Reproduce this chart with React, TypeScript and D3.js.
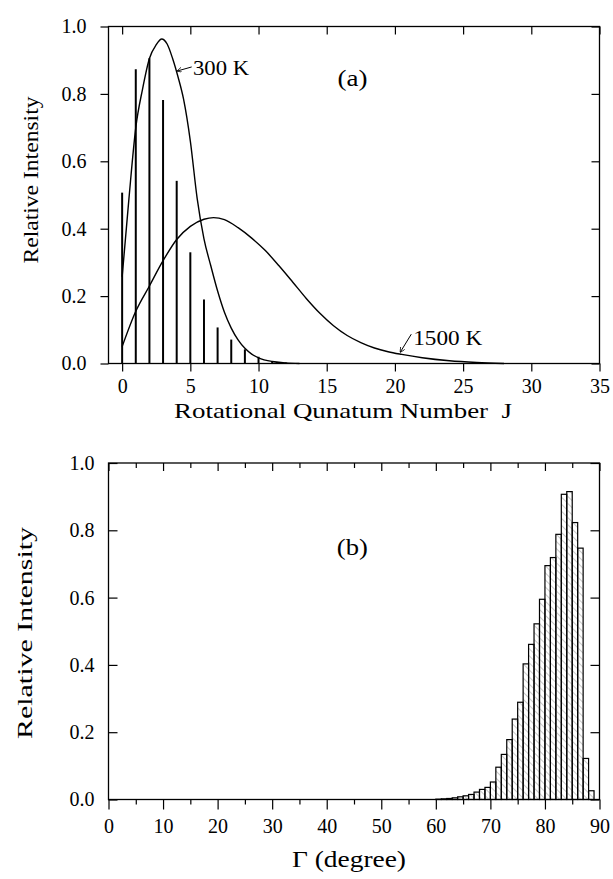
import React, { useRef, useEffect } from 'react';
import * as d3 from 'd3';

// ---- panel (a): rotational populations ----
const jLevels = [0, 1, 2, 3, 4, 5, 6, 7, 8, 9, 10, 11, 12];
const lineIntensity = [0.507, 0.873, 0.906, 0.782, 0.542, 0.33, 0.19, 0.107, 0.071, 0.042, 0.02, 0.007, 0.003];

const j300 = [0, 0.5, 1, 1.5, 2, 2.5, 2.9, 3.3, 3.7, 4.1, 4.5, 5, 5.5, 6, 6.5, 7, 7.5, 8, 8.5, 9, 9.5, 10, 11, 12, 13];
const i300 = [0.257, 0.49, 0.7, 0.815, 0.905, 0.946, 0.963, 0.948, 0.905, 0.85, 0.785, 0.66, 0.49, 0.37, 0.29, 0.215, 0.152, 0.105, 0.07, 0.045, 0.028, 0.017, 0.006, 0.002, 0];

const j1500 = [0, 1, 2, 3, 4, 5, 6, 6.7, 7.5, 8.5, 9.5, 10.5, 11.5, 12.5, 13.5, 14.5, 15.5, 16.5, 17.5, 18.5, 19.5, 20.5, 22, 24, 26, 28];
const i1500 = [0.05, 0.155, 0.23, 0.305, 0.368, 0.407, 0.428, 0.433, 0.427, 0.403, 0.372, 0.335, 0.29, 0.242, 0.193, 0.149, 0.112, 0.083, 0.062, 0.046, 0.035, 0.027, 0.017, 0.008, 0.003, 0];

const jTicks = [0, 5, 10, 15, 20, 25, 30, 35];
const intensityTicks = [0, 0.2, 0.4, 0.6, 0.8, 1.0];

// ---- panel (b): Gamma histogram (1 degree bins) ----
const gammaBins = [60, 61, 62, 63, 64, 65, 66, 67, 68, 69, 70, 71, 72, 73, 74, 75, 76, 77, 78, 79, 80, 81, 82, 83, 84, 85, 86, 87, 88];
const gammaCounts = [0.001, 0.002, 0.003, 0.005, 0.008, 0.011, 0.015, 0.022, 0.03, 0.036, 0.052, 0.096, 0.134, 0.178, 0.239, 0.289, 0.403, 0.461, 0.522, 0.595, 0.695, 0.719, 0.788, 0.907, 0.915, 0.823, 0.747, 0.122, 0.026];

const gammaTicks = [0, 10, 20, 30, 40, 50, 60, 70, 80, 90];
const gammaMinor = [5, 15, 25, 35, 45, 55, 65, 75, 85];

const App = () => {
  const svgRef = useRef(null);

  useEffect(() => {
    const svg = d3.select(svgRef.current);
    svg.selectAll('*').remove();
    const font = "'Liberation Serif', 'Times New Roman', 'Nimbus Roman', 'FreeSerif', serif";

    const left = 108.5;
    const right = 599.5;
    const xJ = d3.scaleLinear().domain([-1, 35]).range([left, right]);
    const yA = d3.scaleLinear().domain([0, 1]).range([363.5, 26.5]);
    const xG = d3.scaleLinear().domain([0, 90]).range([left, right]);
    const yB = d3.scaleLinear().domain([0, 1]).range([799.5, 463]);

    const defs = svg.append('defs');
    defs.append('pattern')
      .attr('id', 'hatch')
      .attr('patternUnits', 'userSpaceOnUse')
      .attr('width', 5)
      .attr('height', 10)
      .attr('patternTransform', 'rotate(-45)')
      .append('line')
      .attr('x1', 0).attr('y1', 0).attr('x2', 0).attr('y2', 10)
      .attr('stroke', '#777')
      .attr('stroke-width', 0.8);

    defs.append('marker')
      .attr('id', 'arrow')
      .attr('viewBox', '0 0 10 10')
      .attr('refX', 9).attr('refY', 5)
      .attr('markerWidth', 5).attr('markerHeight', 5)
      .attr('markerUnits', 'userSpaceOnUse')
      .attr('orient', 'auto')
      .append('path')
      .attr('d', 'M0,0 L10,5 L0,10')
      .attr('fill', 'none')
      .attr('stroke', '#000')
      .attr('stroke-width', 1.5);

    const styleAxis = (g) => {
      g.select('.domain').remove();
      g.attr('font-family', null).attr('font-size', null);
      g.style('font-family', font).style('font-size', '20px');
      g.selectAll('line').attr('stroke', '#000').attr('stroke-width', 1.2);
      g.selectAll('text').attr('fill', '#000');
    };
    const noLabel = () => '';

    const label = (sel, size) => sel.style('font-family', font).style('font-size', `${size}px`).attr('fill', '#000');

    // ================= panel (a) =================
    svg.append('g').attr('transform', `translate(0,${yA(0)})`)
      .call(d3.axisBottom(xJ).tickValues(jTicks).tickSize(8).tickPadding(7))
      .call(styleAxis);
    svg.append('g').attr('transform', `translate(0,${yA(1)})`)
      .call(d3.axisTop(xJ).tickValues(jTicks).tickSize(-8).tickFormat(noLabel))
      .call(styleAxis);
    svg.append('g').attr('transform', `translate(${left},0)`)
      .call(d3.axisLeft(yA).tickValues(intensityTicks).tickSize(8).tickPadding(14).tickFormat(d3.format('.1f')))
      .call(styleAxis);
    svg.append('g').attr('transform', `translate(${right},0)`)
      .call(d3.axisRight(yA).tickValues(intensityTicks).tickSize(-8).tickFormat(noLabel))
      .call(styleAxis);

    svg.append('rect')
      .attr('x', left).attr('y', yA(1))
      .attr('width', right - left).attr('height', yA(0) - yA(1))
      .attr('fill', 'none').attr('stroke', '#000').attr('stroke-width', 1.3);

    svg.append('g')
      .selectAll('line')
      .data(jLevels)
      .enter().append('line')
      .attr('x1', d => xJ(d)).attr('x2', d => xJ(d))
      .attr('y1', yA(0))
      .attr('y2', (d, i) => yA(lineIntensity[i]))
      .attr('stroke', '#000')
      .attr('stroke-width', 2);

    const lineA = d3.line()
      .x(d => xJ(d[0]))
      .y(d => yA(d[1]))
      .curve(d3.curveMonotoneX);

    [[j300, i300], [j1500, i1500]].forEach(([js, vs]) => {
      svg.append('path')
        .datum(js.map((j, i) => [j, vs[i]]))
        .attr('d', lineA)
        .attr('fill', 'none')
        .attr('stroke', '#000')
        .attr('stroke-width', 1.4);
    });

    // annotations
    svg.append('line')
      .attr('x1', xJ(5.1)).attr('y1', yA(0.88))
      .attr('x2', xJ(4.05)).attr('y2', yA(0.868))
      .attr('stroke', '#000').attr('stroke-width', 1)
      .attr('marker-end', 'url(#arrow)');
    svg.append('text')
      .attr('x', xJ(5.2)).attr('y', yA(0.856))
      .call(label, 21)
      .attr('textLength', 56).attr('lengthAdjust', 'spacingAndGlyphs')
      .text('300 K');

    svg.append('line')
      .attr('x1', xJ(21.2)).attr('y1', yA(0.087))
      .attr('x2', xJ(20.4)).attr('y2', yA(0.034))
      .attr('stroke', '#000').attr('stroke-width', 1)
      .attr('marker-end', 'url(#arrow)');
    svg.append('text')
      .attr('x', xJ(21.34)).attr('y', yA(0.054))
      .call(label, 21)
      .attr('textLength', 69).attr('lengthAdjust', 'spacingAndGlyphs')
      .text('1500 K');

    svg.append('text')
      .attr('x', xJ(16.9)).attr('y', yA(0.824))
      .attr('text-anchor', 'middle')
      .call(label, 24)
      .attr('textLength', 30).attr('lengthAdjust', 'spacingAndGlyphs')
      .text('(a)');

    svg.append('text')
      .attr('x', 343).attr('y', 418)
      .attr('text-anchor', 'middle')
      .call(label, 22)
      .style('white-space', 'pre')
      .attr('textLength', 338).attr('lengthAdjust', 'spacingAndGlyphs')
      .text('Rotational Qunatum Number  J');

    svg.append('text')
      .attr('transform', 'translate(38,180) rotate(-90)')
      .attr('text-anchor', 'middle')
      .call(label, 21)
      .attr('textLength', 167).attr('lengthAdjust', 'spacingAndGlyphs')
      .text('Relative Intensity');

    // ================= panel (b) =================
    svg.append('g').attr('transform', `translate(0,${yB(0)})`)
      .call(d3.axisBottom(xG).tickValues(gammaTicks).tickSize(10).tickPadding(9))
      .call(styleAxis);
    svg.append('g').attr('transform', `translate(0,${yB(0)})`)
      .call(d3.axisBottom(xG).tickValues(gammaMinor).tickSize(5).tickFormat(noLabel))
      .call(styleAxis);
    svg.append('g').attr('transform', `translate(0,${yB(1)})`)
      .call(d3.axisTop(xG).tickValues(gammaTicks).tickSize(-8).tickFormat(noLabel))
      .call(styleAxis);
    svg.append('g').attr('transform', `translate(0,${yB(1)})`)
      .call(d3.axisTop(xG).tickValues(gammaMinor).tickSize(-5).tickFormat(noLabel))
      .call(styleAxis);
    svg.append('g').attr('transform', `translate(${left},0)`)
      .call(d3.axisLeft(yB).tickValues(intensityTicks).tickSize(-9).tickPadding(14).tickFormat(d3.format('.1f')))
      .call(styleAxis);
    svg.append('g').attr('transform', `translate(${right},0)`)
      .call(d3.axisRight(yB).tickValues(intensityTicks).tickSize(-9).tickFormat(noLabel))
      .call(styleAxis);

    svg.append('g')
      .selectAll('rect')
      .data(gammaBins)
      .enter().append('rect')
      .attr('x', d => xG(d))
      .attr('width', d => xG(d + 1) - xG(d))
      .attr('y', (d, i) => yB(gammaCounts[i]))
      .attr('height', (d, i) => yB(0) - yB(gammaCounts[i]))
      .attr('fill', 'url(#hatch)')
      .attr('stroke', '#000')
      .attr('stroke-width', 1.2);

    svg.append('rect')
      .attr('x', left).attr('y', yB(1))
      .attr('width', right - left).attr('height', yB(0) - yB(1))
      .attr('fill', 'none').attr('stroke', '#000').attr('stroke-width', 1.3);

    svg.append('text')
      .attr('x', xG(44.7)).attr('y', yB(0.726))
      .attr('text-anchor', 'middle')
      .call(label, 24)
      .attr('textLength', 31).attr('lengthAdjust', 'spacingAndGlyphs')
      .text('(b)');

    svg.append('text')
      .attr('x', 349).attr('y', 867)
      .attr('text-anchor', 'middle')
      .call(label, 24)
      .attr('textLength', 114).attr('lengthAdjust', 'spacingAndGlyphs')
      .text('Γ (degree)');

    svg.append('text')
      .attr('transform', 'translate(32,633) rotate(-90)')
      .attr('text-anchor', 'middle')
      .call(label, 22)
      .attr('textLength', 212).attr('lengthAdjust', 'spacingAndGlyphs')
      .text('Relative Intensity');
  }, []);

  return (
    <svg
      ref={svgRef}
      width={613}
      height={879}
      style={{ position: 'absolute', left: 0, top: 0, background: '#fff' }}
    ></svg>
  );
};

export default App;
